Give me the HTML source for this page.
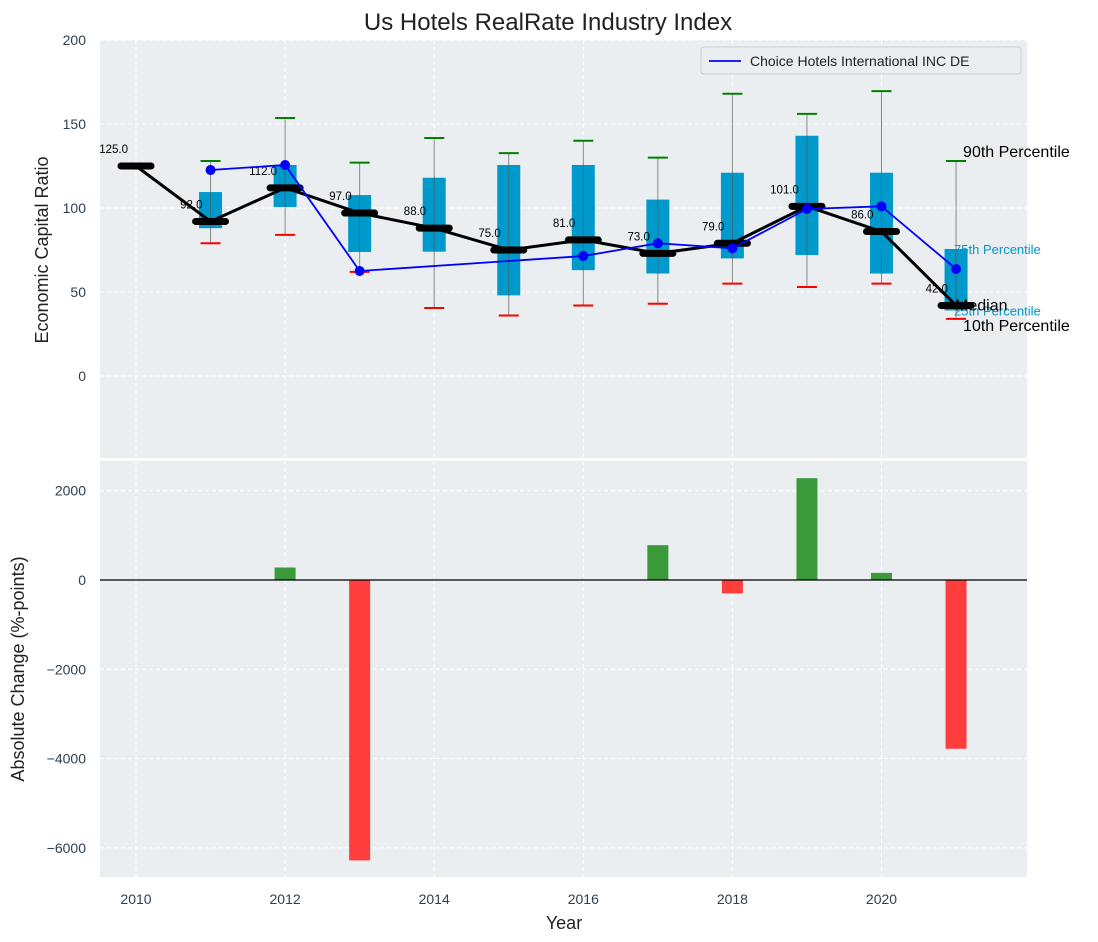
<!DOCTYPE html>
<html><head><meta charset="utf-8">
<style>
body{margin:0;background:#fff;}
svg{display:block;font-family:"Liberation Sans","DejaVu Sans",sans-serif;}
</style></head>
<body>
<svg id="chart" width="1098" height="942"></svg>
<script>
const years=[2010,2011,2012,2013,2014,2015,2016,2017,2018,2019,2020,2021];
const medians=[125,92,112,97,88,75,81,73,79,101,86,42];
const q25=[null,88,100.6,73.8,74,48,63,61,70,72,61,39];
const q75=[null,109.5,125.6,107.7,118,125.6,125.6,105,121,143,121,75.6];
const p10=[null,79,84,62,40.5,36,42,43,55,53,55,34];
const p90=[null,128,153.6,127,141.7,132.7,140,130,168,156,169.6,128];
const company=[null,122.6,125.6,62.5,null,null,71.4,79,76,99.4,101,63.7];
const changes=[0,0,280,-6280,0,0,0,780,-300,2280,160,-3780];
const yTicksTop=[0,50,100,150,200];
const yTicksBot=[-6000,-4000,-2000,0,2000];
const xTicks=[2010,2012,2014,2016,2018,2020];

const NS="http://www.w3.org/2000/svg";
const svg=document.getElementById('chart');
function el(tag,attrs,parent,text){const e=document.createElementNS(NS,tag);for(const k in attrs)e.setAttribute(k,attrs[k]);if(text!==undefined)e.textContent=text;(parent||svg).appendChild(e);return e;}
const L=100,R=1027;
const xs=y=>136+(y-2010)*74.55;
const yT=v=>376-1.68*v;
const yB=v=>580-v*0.04465;

let g=el('rect',{x:L,y:40,width:R-L,height:418,fill:'#eaeef0'});

g=el('rect',{x:L,y:461,width:R-L,height:416,fill:'#eaeef0'});


xTicks.forEach(t=>{
  el('line',{x1:xs(t),x2:xs(t),y1:40,y2:458,stroke:'#fff','stroke-dasharray':'4,3','stroke-width':1});
  el('line',{x1:xs(t),x2:xs(t),y1:461,y2:877,stroke:'#fff','stroke-dasharray':'4,3','stroke-width':1});
  const t1=el('text',{x:xs(t),y:904,'text-anchor':'middle','font-size':14,fill:'#2e3f51'},null,t);
  
});
yTicksTop.forEach(t=>{
  el('line',{x1:L,x2:R,y1:yT(t),y2:yT(t),stroke:'#fff','stroke-dasharray':'4,3'});
  const t1=el('text',{x:86,y:yT(t)+5,'text-anchor':'end','font-size':14,fill:'#2e3f51'},null,t);
  
});
yTicksBot.forEach(t=>{
  el('line',{x1:L,x2:R,y1:yB(t),y2:yB(t),stroke:'#fff','stroke-dasharray':'4,3'});
  const t1=el('text',{x:86,y:yB(t)+5,'text-anchor':'end','font-size':14,fill:'#2e3f51'},null,t<0?'\u2212'+(-t):t);
  
});

const last=years.length-1;
[['75th Percentile',q75[last]],['25th Percentile',q25[last]]].forEach(([s,v])=>{
  const t=el('text',{x:xs(years[last])-2,y:yT(v)+5,'font-size':13,fill:'#0099cc'},null,s);
  
});

years.forEach((y,i)=>{
  if(p10[i]==null)return;
  const x=xs(y);
  el('line',{x1:x,x2:x,y1:yT(p90[i]),y2:yT(p10[i]),stroke:'#888','stroke-width':1});
  const b=el('rect',{x:x-11.5,y:yT(q75[i]),width:23,height:yT(q25[i])-yT(q75[i]),fill:'#0099cc'});
  
  el('line',{x1:x,x2:x,y1:yT(q75[i]),y2:yT(q25[i]),stroke:'#555','stroke-width':1,opacity:0.6});
  const c1=el('line',{x1:x-10,x2:x+10,y1:yT(p90[i]),y2:yT(p90[i]),stroke:'green','stroke-width':2});
  
  const c2=el('line',{x1:x-10,x2:x+10,y1:yT(p10[i]),y2:yT(p10[i]),stroke:'red','stroke-width':2});
  
});

let pts=years.map((y,i)=>xs(y)+','+yT(medians[i])).join(' ');
g=el('polyline',{points:pts,fill:'none',stroke:'#000','stroke-width':3});

years.forEach((y,i)=>{
  const x=xs(y),v=yT(medians[i]);
  const m=el('line',{x1:x-15,x2:x+15,y1:v,y2:v,stroke:'#000','stroke-width':7,'stroke-linecap':'round'});
  
  const t=el('text',{x:x-8,y:v-13,'text-anchor':'end','font-size':11.5,fill:'#000'},null,medians[i].toFixed(1));
  
});

const cp=[];years.forEach((y,i)=>{if(company[i]!=null)cp.push([xs(y),yT(company[i])]);});
g=el('polyline',{points:cp.map(p=>p.join(',')).join(' '),fill:'none',stroke:'#0000ff','stroke-width':1.8});

cp.forEach(p=>{const c=el('circle',{cx:p[0],cy:p[1],r:5,fill:'#0000ff'});
  });

[['90th Percentile',p90[last],-4],['Median',medians[last],5],['10th Percentile',p10[last],12]].forEach(([s,v,d],k)=>{
  const t=el('text',{x:xs(years[last])+(k==1?-1:7),y:yT(v)+d,'font-size':16,fill:'#000'},null,s);
  
});

g=el('g',{});
el('rect',{x:701,y:47,width:320,height:27,fill:'#eaeef0',stroke:'#ccc',rx:3},g);
el('line',{x1:709,x2:741,y1:61,y2:61,stroke:'#0000ff','stroke-width':1.8},g);
el('text',{x:750,y:66,'font-size':14,fill:'#222'},g,'Choice Hotels International INC DE');

years.forEach((y,i)=>{
  if(!changes[i])return;
  const v=changes[i];
  const b=el('rect',{x:xs(y)-10.5,y:Math.min(yB(v),yB(0)),width:21,height:Math.abs(yB(v)-yB(0)),fill:v>0?'#3a9a3a':'#ff3d3d'});
  
});
el('line',{x1:L,x2:R,y1:yB(0),y2:yB(0),stroke:'#000','stroke-width':1.2});

g=el('text',{x:548,y:30,'text-anchor':'middle','font-size':24,fill:'#222'},null,'Us Hotels RealRate Industry Index');

g=el('text',{x:0,y:0,transform:'translate(48,250) rotate(-90)','text-anchor':'middle','font-size':18,fill:'#222'},null,'Economic Capital Ratio');

g=el('text',{x:0,y:0,transform:'translate(24,669) rotate(-90)','text-anchor':'middle','font-size':18,fill:'#222'},null,'Absolute Change (%-points)');

g=el('text',{x:564,y:929,'text-anchor':'middle','font-size':18,fill:'#222'},null,'Year');

</script>
</body></html>
